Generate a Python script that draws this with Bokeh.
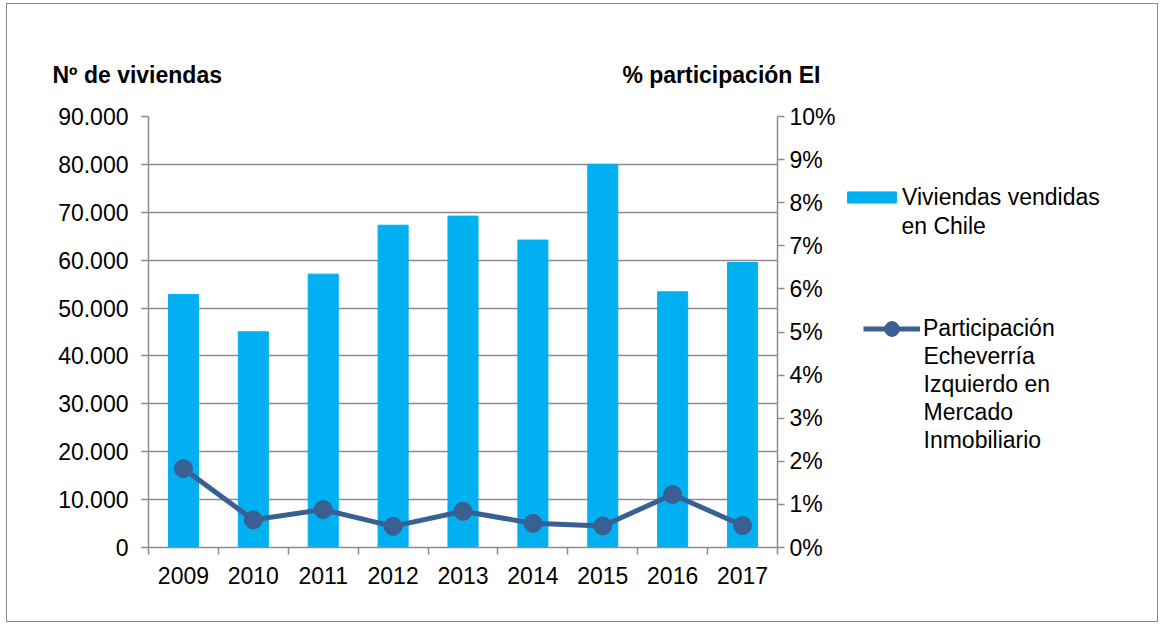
from bokeh.plotting import figure
from bokeh.layouts import column, row
from bokeh.models import (Range1d, LinearAxis, FixedTicker, Legend, LegendItem,
                          Label, ColumnDataSource)
from bokeh.embed import file_html
from bokeh.resources import INLINE

# ---- data ----
years = ["2009", "2010", "2011", "2012", "2013", "2014", "2015", "2016", "2017"]
viviendas = [52850, 45050, 57080, 67300, 69200, 64200, 80000, 53400, 59500]
participacion = [1.83, 0.64, 0.88, 0.49, 0.84, 0.56, 0.50, 1.23, 0.51]

left_ticks = [0, 10000, 20000, 30000, 40000, 50000, 60000, 70000, 80000, 90000]
left_tick_labels = ["0", "10.000", "20.000", "30.000", "40.000", "50.000",
                    "60.000", "70.000", "80.000", "90.000"]
right_ticks = [0, 1, 2, 3, 4, 5, 6, 7, 8, 9, 10]
right_tick_labels = ["0%", "1%", "2%", "3%", "4%", "5%", "6%", "7%", "8%", "9%", "10%"]

left_title = "Nº de viviendas"
right_title = "% participación EI"
bar_label_lines = ["Viviendas vendidas", "en Chile"]
line_label_lines = ["Participación", "Echeverría", "Izquierdo en", "Mercado", "Inmobiliario"]

BAR_COLOR = "#00B0F0"
LINE_COLOR = "#3A5F92"
GRID_COLOR = "#8C8C8C"
FONT = "Liberation Sans"
FS = "23px"

TOTAL_W, TOTAL_H = 1150, 617
TITLE_H = 95
MAIN_W = 832
BODY_H = TOTAL_H - TITLE_H


def blank_fig(w, h, xr=(0, 1)):
    f = figure(width=w, height=h, output_backend="svg", toolbar_location=None,
               title=None, x_range=Range1d(*xr), y_range=Range1d(0, 1),
               x_axis_location=None, y_axis_location=None, min_border=0)
    f.outline_line_color = None
    f.grid.visible = False
    return f


# ---------------- title strip ----------------
tf = blank_fig(TOTAL_W, TITLE_H)
for txt, x, align in ((left_title, 45, "left"), (right_title, 813, "right")):
    tf.add_layout(Label(x=x, y=25, x_units="screen", y_units="screen", text=txt,
                        text_font=FONT, text_font_size=FS, text_font_style="bold",
                        text_align=align, text_baseline="alphabetic",
                        text_color="black"))

# ---------------- main chart ----------------
xpos = [i + 1 for i in range(len(years))]
bounds = [i + 0.5 for i in range(len(years) + 1)]
src = ColumnDataSource(dict(x=xpos, v=viviendas, p=participacion))

p = figure(width=MAIN_W, height=BODY_H, output_backend="svg", toolbar_location=None,
           title=None, x_range=Range1d(0.5, len(years) + 0.5),
           y_range=Range1d(left_ticks[0], left_ticks[-1]),
           min_border_left=141, min_border_right=MAIN_W - 770, min_border_top=17,
           min_border_bottom=74)
p.outline_line_color = None
p.extra_y_ranges = {"pct": Range1d(right_ticks[0], right_ticks[-1])}

p.vbar(x="x", top="v", width=0.43, source=src, color=BAR_COLOR)
p.line(x="x", y="p", source=src, y_range_name="pct", line_color=LINE_COLOR, line_width=5)
p.scatter(x="x", y="p", source=src, y_range_name="pct", size=18,
          fill_color=LINE_COLOR, line_color=LINE_COLOR)

p.xgrid.visible = False
p.ygrid.ticker = FixedTicker(ticks=left_ticks)
p.ygrid.grid_line_color = GRID_COLOR
p.ygrid.grid_line_width = 1.5

xa = p.xaxis[0]
xa.ticker = FixedTicker(ticks=xpos, minor_ticks=bounds)
xa.major_label_overrides = {x: y for x, y in zip(xpos, years)}
xa.major_tick_line_color = None
xa.minor_tick_line_color = GRID_COLOR
xa.minor_tick_line_width = 1.5
xa.minor_tick_out = 7
xa.minor_tick_in = 0
xa.major_label_standoff = 12

ya = p.yaxis[0]
ya.ticker = FixedTicker(ticks=left_ticks)
ya.major_label_overrides = {t: l for t, l in zip(left_ticks, left_tick_labels)}
ya.major_label_standoff = 13

ra = LinearAxis(y_range_name="pct", ticker=FixedTicker(ticks=right_ticks))
ra.major_label_overrides = {t: l for t, l in zip(right_ticks, right_tick_labels)}
ra.major_label_standoff = 5
p.add_layout(ra, "right")

for ax in (ya, ra):
    ax.minor_tick_line_color = None
    ax.major_tick_out = 7
    ax.major_tick_in = 0
    ax.major_tick_line_color = GRID_COLOR
    ax.major_tick_line_width = 1.5
for ax in (xa, ya, ra):
    ax.axis_line_color = GRID_COLOR
    ax.axis_line_width = 1.5
    ax.major_label_text_font = FONT
    ax.major_label_text_font_size = FS
    ax.major_label_text_color = "black"

# ---------------- legend panel ----------------
# (its frame is aligned with the chart frame; proxies share the data but lie
#  outside this panel's ranges, so only their legend samples are drawn)
lf = blank_fig(TOTAL_W - MAIN_W, BODY_H, xr=(-3, -2))
bar_proxy = lf.vbar(x="x", top="v", width=0.43, source=src, color=BAR_COLOR)
line_proxy = lf.line(x="x", y="p", source=src, line_color=LINE_COLOR, line_width=5)
pt_proxy = lf.scatter(x="x", y="p", source=src, fill_color=LINE_COLOR,
                      line_color=LINE_COLOR)

leg1 = Legend(items=[LegendItem(label=bar_label_lines[0], renderers=[bar_proxy])],
              location=(2, 335), glyph_width=61, glyph_height=14, label_height=30,
              label_standoff=0)
leg2 = Legend(items=[LegendItem(label=line_label_lines[0], renderers=[line_proxy, pt_proxy])],
              location=(24, 200.5), glyph_width=57, glyph_height=37, label_height=30,
              label_standoff=3)
for lg in (leg1, leg2):
    lg.label_text_font = FONT
    lg.label_text_font_size = FS
    lg.label_text_color = "black"
    lg.border_line_color = None
    lg.background_fill_alpha = 0
    lg.padding = 0
    lg.margin = 0
    lg.spacing = 0
    lf.add_layout(lg, "center")

LINE_STEP = 28
for lines, x, y0 in ((bar_label_lines, 62, 350), (line_label_lines, 84, 219.5)):
    for k, txt in enumerate(lines[1:], start=1):
        lf.add_layout(Label(x=x, y=y0 - k * LINE_STEP, x_units="screen", y_units="screen",
                            text=txt, text_font=FONT, text_font_size=FS,
                            text_color="black", text_baseline="middle"))

root = column(tf, row(p, lf))
root.styles = {"border": "1px solid #888888", "margin": "3px 0 0 6px"}

open("out.html", "w").write(file_html(root, INLINE))
